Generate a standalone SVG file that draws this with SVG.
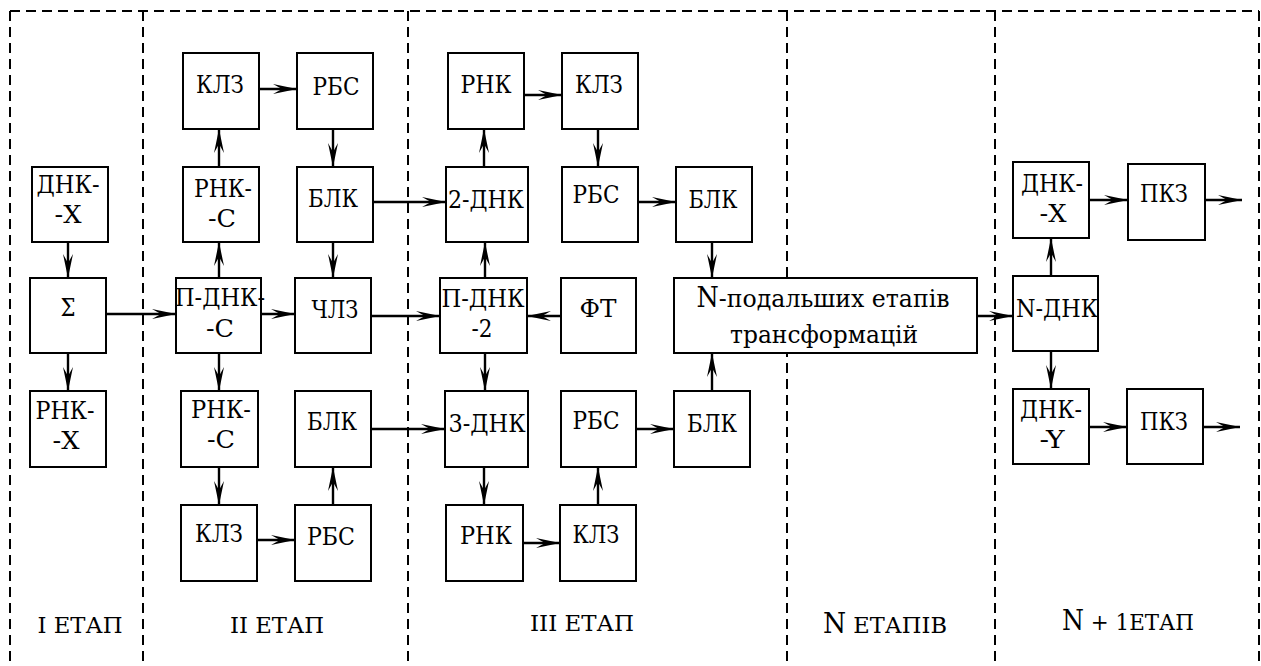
<svg xmlns="http://www.w3.org/2000/svg" width="1261" height="666" viewBox="0 0 1261 666">
<defs>
<style>
.frame{fill:none;stroke:#000;stroke-width:2;stroke-dasharray:10 6}
.box{fill:#fff;stroke:#000;stroke-width:2}
.t{font-family:"DejaVu Serif","Liberation Serif",serif;font-size:25px;text-anchor:middle;fill:#000}
.lbl{font-family:"DejaVu Serif","Liberation Serif",serif;font-size:23px;text-anchor:middle;fill:#000}
.big{font-size:27px}
.c line{stroke:#000;stroke-width:2.4;marker-end:url(#ah)}
</style>
<marker id="ah" markerUnits="userSpaceOnUse" markerWidth="26" markerHeight="12" viewBox="0 0 26 12" refX="24" refY="6" orient="auto">
<path d="M0,1 L24,6 L0,11 L9,6 Z" fill="#000"/>
</marker>
</defs>
<rect width="1261" height="666" fill="#fff"/>
<g id="frame">
<path class="frame" d="M10,11 H1259 M10,11 V666 M143,11 V666 M408,11 V666 M787,11 V666 M995,11 V666 M1259,11 V666"/>
</g>
<g id="connectors" class="c">
<line x1="68" y1="242" x2="68" y2="278"/>
<line x1="68" y1="353" x2="68" y2="391"/>
<line x1="104" y1="314" x2="176" y2="314"/>
<line x1="219" y1="278" x2="219" y2="242"/>
<line x1="219" y1="167" x2="219" y2="129"/>
<line x1="259" y1="89" x2="297" y2="89"/>
<line x1="333" y1="129" x2="333" y2="167"/>
<line x1="333" y1="242" x2="333" y2="278"/>
<line x1="261" y1="314" x2="295" y2="314"/>
<line x1="219" y1="353" x2="219" y2="391"/>
<line x1="219" y1="467" x2="219" y2="505"/>
<line x1="257" y1="540" x2="295" y2="540"/>
<line x1="333" y1="505" x2="333" y2="467"/>
<line x1="373" y1="202" x2="446" y2="202"/>
<line x1="371" y1="316" x2="440" y2="316"/>
<line x1="371" y1="429" x2="445" y2="429"/>
<line x1="484" y1="167" x2="484" y2="129"/>
<line x1="524" y1="95" x2="562" y2="95"/>
<line x1="598" y1="129" x2="598" y2="167"/>
<line x1="636" y1="202" x2="676" y2="202"/>
<line x1="712" y1="242" x2="712" y2="278"/>
<line x1="485" y1="278" x2="485" y2="242"/>
<line x1="561" y1="316" x2="527" y2="316"/>
<line x1="485" y1="353" x2="485" y2="391"/>
<line x1="636" y1="429" x2="674" y2="429"/>
<line x1="712" y1="391" x2="712" y2="353"/>
<line x1="484" y1="467" x2="484" y2="505"/>
<line x1="523" y1="543" x2="560" y2="543"/>
<line x1="598" y1="505" x2="598" y2="467"/>
<line x1="977" y1="316" x2="1013" y2="316"/>
<line x1="1051" y1="276" x2="1051" y2="238"/>
<line x1="1051" y1="351" x2="1051" y2="389"/>
<line x1="1089" y1="200" x2="1128" y2="200"/>
<line x1="1205" y1="200" x2="1242" y2="200"/>
<line x1="1089" y1="427" x2="1127" y2="427"/>
<line x1="1203" y1="427" x2="1240" y2="427"/>
</g>
<g id="n1_dnkx"><rect class="box" x="32" y="167" width="76" height="75"/><text class="t" x="68" y="193" textLength="63" lengthAdjust="spacingAndGlyphs">ДНК-</text><text class="t" x="68" y="223" textLength="27" lengthAdjust="spacingAndGlyphs">-Х</text></g>
<g id="n1_sigma"><rect class="box" x="30" y="278" width="76" height="75"/><text class="t" x="68" y="316" textLength="15" lengthAdjust="spacingAndGlyphs">Σ</text></g>
<g id="n1_rnkx"><rect class="box" x="30" y="391" width="76" height="76"/><text class="t" x="65" y="419" textLength="59" lengthAdjust="spacingAndGlyphs">РНК-</text><text class="t" x="66" y="449" textLength="27" lengthAdjust="spacingAndGlyphs">-Х</text></g>
<g id="n2_klz_t"><rect class="box" x="183" y="53" width="76" height="76"/><text class="t" x="220" y="93" textLength="48" lengthAdjust="spacingAndGlyphs">КЛЗ</text></g>
<g id="n2_rbs_t"><rect class="box" x="297" y="53" width="76" height="76"/><text class="t" x="336" y="95" textLength="47" lengthAdjust="spacingAndGlyphs">РБС</text></g>
<g id="n2_rnkc_t"><rect class="box" x="183" y="167" width="76" height="75"/><text class="t" x="223" y="197" textLength="58" lengthAdjust="spacingAndGlyphs">РНК-</text><text class="t" x="222" y="227" textLength="28" lengthAdjust="spacingAndGlyphs">-С</text></g>
<g id="n2_blk_t"><rect class="box" x="297" y="167" width="76" height="75"/><text class="t" x="333" y="207" textLength="50" lengthAdjust="spacingAndGlyphs">БЛК</text></g>
<g id="n2_pdnkc"><rect class="box" x="176" y="278" width="85" height="75"/><text class="t" x="220" y="306" textLength="90" lengthAdjust="spacingAndGlyphs">П-ДНК-</text><text class="t" x="220" y="337" textLength="28" lengthAdjust="spacingAndGlyphs">-С</text></g>
<g id="n2_chlz"><rect class="box" x="295" y="278" width="76" height="75"/><text class="t" x="335" y="318" textLength="47" lengthAdjust="spacingAndGlyphs">ЧЛЗ</text></g>
<g id="n2_rnkc_b"><rect class="box" x="181" y="391" width="77" height="76"/><text class="t" x="221" y="418" textLength="60" lengthAdjust="spacingAndGlyphs">РНК-</text><text class="t" x="221" y="448" textLength="28" lengthAdjust="spacingAndGlyphs">-С</text></g>
<g id="n2_blk_b"><rect class="box" x="295" y="391" width="76" height="76"/><text class="t" x="332" y="430" textLength="50" lengthAdjust="spacingAndGlyphs">БЛК</text></g>
<g id="n2_klz_b"><rect class="box" x="181" y="505" width="76" height="76"/><text class="t" x="219" y="542" textLength="48" lengthAdjust="spacingAndGlyphs">КЛЗ</text></g>
<g id="n2_rbs_b"><rect class="box" x="295" y="505" width="76" height="76"/><text class="t" x="331" y="545" textLength="48" lengthAdjust="spacingAndGlyphs">РБС</text></g>
<g id="n3_rnk_t"><rect class="box" x="448" y="53" width="76" height="76"/><text class="t" x="486" y="93" textLength="51" lengthAdjust="spacingAndGlyphs">РНК</text></g>
<g id="n3_klz_t"><rect class="box" x="562" y="53" width="76" height="76"/><text class="t" x="599" y="93" textLength="48" lengthAdjust="spacingAndGlyphs">КЛЗ</text></g>
<g id="n3_2dnk"><rect class="box" x="446" y="167" width="82" height="75"/><text class="t" x="486" y="208" textLength="76" lengthAdjust="spacingAndGlyphs">2-ДНК</text></g>
<g id="n3_rbs_m"><rect class="box" x="562" y="167" width="76" height="75"/><text class="t" x="596" y="203" textLength="47" lengthAdjust="spacingAndGlyphs">РБС</text></g>
<g id="n3_blk_m"><rect class="box" x="676" y="167" width="76" height="75"/><text class="t" x="713" y="208" textLength="49" lengthAdjust="spacingAndGlyphs">БЛК</text></g>
<g id="n3_pdnk2"><rect class="box" x="440" y="278" width="87" height="75"/><text class="t" x="483" y="307" textLength="83" lengthAdjust="spacingAndGlyphs">П-ДНК</text><text class="t" x="482" y="337" textLength="21" lengthAdjust="spacingAndGlyphs">-2</text></g>
<g id="n3_ft"><rect class="box" x="561" y="278" width="75" height="75"/><text class="t" x="598" y="317" textLength="37" lengthAdjust="spacingAndGlyphs">ФТ</text></g>
<g id="n3_3dnk"><rect class="box" x="445" y="391" width="83" height="76"/><text class="t" x="487" y="432" textLength="77" lengthAdjust="spacingAndGlyphs">3-ДНК</text></g>
<g id="n3_rbs_b"><rect class="box" x="561" y="391" width="75" height="76"/><text class="t" x="596" y="429" textLength="47" lengthAdjust="spacingAndGlyphs">РБС</text></g>
<g id="n3_blk_b"><rect class="box" x="674" y="391" width="76" height="76"/><text class="t" x="712" y="432" textLength="50" lengthAdjust="spacingAndGlyphs">БЛК</text></g>
<g id="n3_rnk_b"><rect class="box" x="446" y="505" width="77" height="76"/><text class="t" x="486" y="544" textLength="52" lengthAdjust="spacingAndGlyphs">РНК</text></g>
<g id="n3_klz_b"><rect class="box" x="560" y="505" width="76" height="76"/><text class="t" x="596" y="543" textLength="47" lengthAdjust="spacingAndGlyphs">КЛЗ</text></g>
<g id="nN_box"><rect class="box" x="674" y="278" width="303" height="75"/><text class="t" x="823" y="307" style="font-size:25px" textLength="253" lengthAdjust="spacingAndGlyphs"><tspan class="big">N</tspan>-подальших етапів</text><text class="t" x="824" y="343" style="font-size:25px" textLength="188" lengthAdjust="spacingAndGlyphs">трансформацій</text></g>
<g id="n5_dnkx"><rect class="box" x="1013" y="162" width="76" height="76"/><text class="t" x="1052" y="192" textLength="62" lengthAdjust="spacingAndGlyphs">ДНК-</text><text class="t" x="1053" y="222" textLength="27" lengthAdjust="spacingAndGlyphs">-Х</text></g>
<g id="n5_pkz_t"><rect class="box" x="1128" y="164" width="77" height="76"/><text class="t" x="1164" y="202" textLength="48" lengthAdjust="spacingAndGlyphs">ПКЗ</text></g>
<g id="n5_ndnk"><rect class="box" x="1013" y="276" width="85" height="75"/><text class="t" x="1057" y="317" textLength="82" lengthAdjust="spacingAndGlyphs">N-ДНК</text></g>
<g id="n5_dnky"><rect class="box" x="1013" y="389" width="76" height="75"/><text class="t" x="1051" y="418" textLength="62" lengthAdjust="spacingAndGlyphs">ДНК-</text><text class="t" x="1052" y="448" textLength="25" lengthAdjust="spacingAndGlyphs">-Y</text></g>
<g id="n5_pkz_b"><rect class="box" x="1127" y="389" width="76" height="75"/><text class="t" x="1164" y="430" textLength="48" lengthAdjust="spacingAndGlyphs">ПКЗ</text></g>
<g id="labels">
<text class="lbl" x="80" y="633" textLength="85" lengthAdjust="spacingAndGlyphs">I ЕТАП</text>
<text class="lbl" x="277" y="633" textLength="94" lengthAdjust="spacingAndGlyphs">II ЕТАП</text>
<text class="lbl" x="582" y="631" textLength="104" lengthAdjust="spacingAndGlyphs">III ЕТАП</text>
<text class="lbl" x="885" y="633" textLength="124" lengthAdjust="spacingAndGlyphs"><tspan class="big">N</tspan> ЕТАПІВ</text>
<text class="lbl" x="1128" y="630" textLength="132" lengthAdjust="spacingAndGlyphs"><tspan class="big">N</tspan> + 1ЕТАП</text>
</g>
</svg>
